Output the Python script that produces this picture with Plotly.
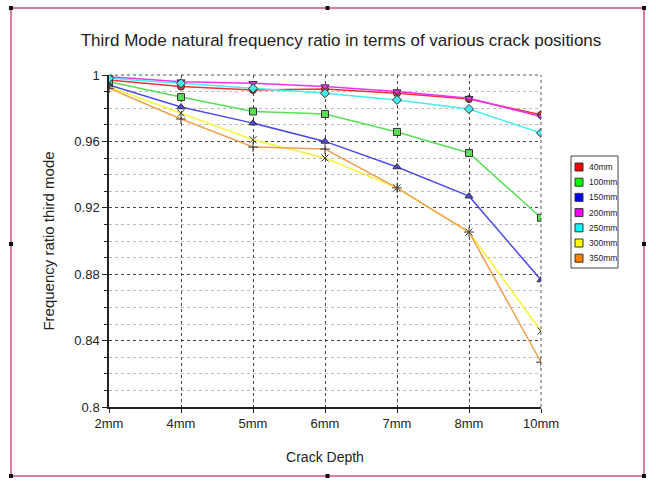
import plotly.graph_objects as go

depths = ["2mm", "4mm", "5mm", "6mm", "7mm", "8mm", "10mm"]
series_names = ["40mm", "100mm", "150mm", "200mm", "250mm", "300mm", "350mm"]
v40 = [0.997, 0.993, 0.991, 0.9916, 0.989, 0.9855, 0.976]
v100 = [0.996, 0.9867, 0.978, 0.9765, 0.9657, 0.953, 0.914]
v150 = [0.994, 0.9807, 0.971, 0.960, 0.9446, 0.927, 0.8765]
v200 = [0.999, 0.996, 0.995, 0.993, 0.990, 0.986, 0.975]
v250 = [0.998, 0.995, 0.992, 0.989, 0.985, 0.9795, 0.965]
v300 = [0.993, 0.977, 0.961, 0.950, 0.932, 0.9054, 0.8458]
v350 = [0.992, 0.9735, 0.9566, 0.9554, 0.932, 0.9054, 0.827]
yticks = [0.8, 0.84, 0.88, 0.92, 0.96, 1.0]
ytick_text = ["0.8", "0.84", "0.88", "0.92", "0.96", "1"]

values = [v40, v100, v150, v200, v250, v300, v350]
line_colors = ["#ee3333", "#55e055", "#4b4bea", "#ee33ee", "#44eeee", "#f5f53a", "#f0a050"]
legend_colors = ["#ff0000", "#00ff00", "#0000ff", "#ff00ff", "#00ffff", "#ffff00", "#ff8000"]
symbols = ["circle", "square", "triangle-up", "triangle-down", "diamond", "x-thin", "cross-thin"]

fig = go.Figure()
for name, vals, lc, sym in zip(series_names, values, line_colors, symbols):
    thin = sym.endswith("thin")
    fig.add_trace(go.Scatter(
        x=depths, y=vals, mode="lines+markers", name=name, showlegend=False,
        line=dict(color=lc, width=1.5),
        marker=dict(symbol=sym, size=7, color=lc if not thin else "#333333",
                    line=dict(color="#333333", width=1)),
    ))

L, R, T, B = 109, 541, 75, 407
W, H = 656, 486
def px(x):
    return (x - L) / (R - L)
def py(y):
    return (B - y) / (B - T)

shapes = [
    dict(type="line", xref="paper", yref="paper", x0=0, x1=1, y0=1, y1=1,
         line=dict(color="#555555", width=1, dash="dot")),
    dict(type="line", xref="paper", yref="paper", x0=1, x1=1, y0=0, y1=1,
         line=dict(color="#555555", width=1, dash="dot")),
    dict(type="rect", xref="paper", yref="paper", x0=px(11), x1=px(644), y0=py(476), y1=py(8),
         line=dict(color="#d05080", width=1.5)),
]
for hx in (11, 327.5, 644):
    for hy in (8, 244, 476):
        if hx == 327.5 and hy == 244:
            continue
        shapes.append(dict(type="rect", xref="paper", yref="paper",
                           x0=px(hx - 2), x1=px(hx + 2), y0=py(hy + 2), y1=py(hy - 2),
                           fillcolor="#111111", line=dict(width=0)))

# manual legend
annotations = []
lg_left, lg_right, lg_top, lg_bot = 571, 618, 156, 268
shapes.append(dict(type="rect", xref="paper", yref="paper",
                   x0=px(lg_left), x1=px(lg_right), y0=py(lg_bot), y1=py(lg_top),
                   fillcolor="white", line=dict(color="#444444", width=1)))
for i, (name, c) in enumerate(zip(series_names, legend_colors)):
    cy = 167 + i * 15.2
    shapes.append(dict(type="rect", xref="paper", yref="paper",
                       x0=px(575), x1=px(583), y0=py(cy + 4), y1=py(cy - 4)
                       , fillcolor=c, line=dict(color="#333333", width=1)))
    annotations.append(dict(text=name, xref="paper", yref="paper", x=px(587), y=py(cy),
                            xanchor="left", yanchor="middle", showarrow=False,
                            font=dict(size=8.5, color="#222222")))

fig.update_layout(
    width=W, height=H,
    margin=dict(l=L, r=W - R, t=T, b=H - B),
    paper_bgcolor="white", plot_bgcolor="white",
    showlegend=False,
    font=dict(family="Liberation Sans, Arial", color="#222222", size=13),
    title=dict(text="Third Mode natural frequency ratio in terms of various crack positions",
               x=341 / W, xanchor="center", y=1 - 40 / H, yanchor="middle",
               font=dict(size=17, color="#222222")),
    xaxis=dict(type="category", range=[0, 6], showline=True, linecolor="#222222", linewidth=1.5,
               showgrid=True, gridcolor="#444444", griddash="dot", gridwidth=1,
               ticks="outside", ticklen=4, tickcolor="#222222", zeroline=False,
               tickfont=dict(size=13),
               title=dict(text="Crack Depth", font=dict(size=14), standoff=22)),
    yaxis=dict(range=[0.8, 1.0], showline=True, linecolor="#222222", linewidth=1.5,
               tickmode="array", tickvals=yticks, ticktext=ytick_text,
               showgrid=True, gridcolor="#444444", griddash="dot", gridwidth=1,
               ticks="outside", ticklen=5, tickcolor="#222222", zeroline=False,
               tickfont=dict(size=13),
               minor=dict(tickmode="linear", tick0=0.8, dtick=0.01, ticks="outside", ticklen=3,
                          tickcolor="#222222", showgrid=True, gridcolor="#bbbbbb", griddash="dot"),
               title=dict(text="Frequency ratio third mode", font=dict(size=15), standoff=16)),
    shapes=shapes,
    annotations=annotations,
)

fig.write_html("out.html")
